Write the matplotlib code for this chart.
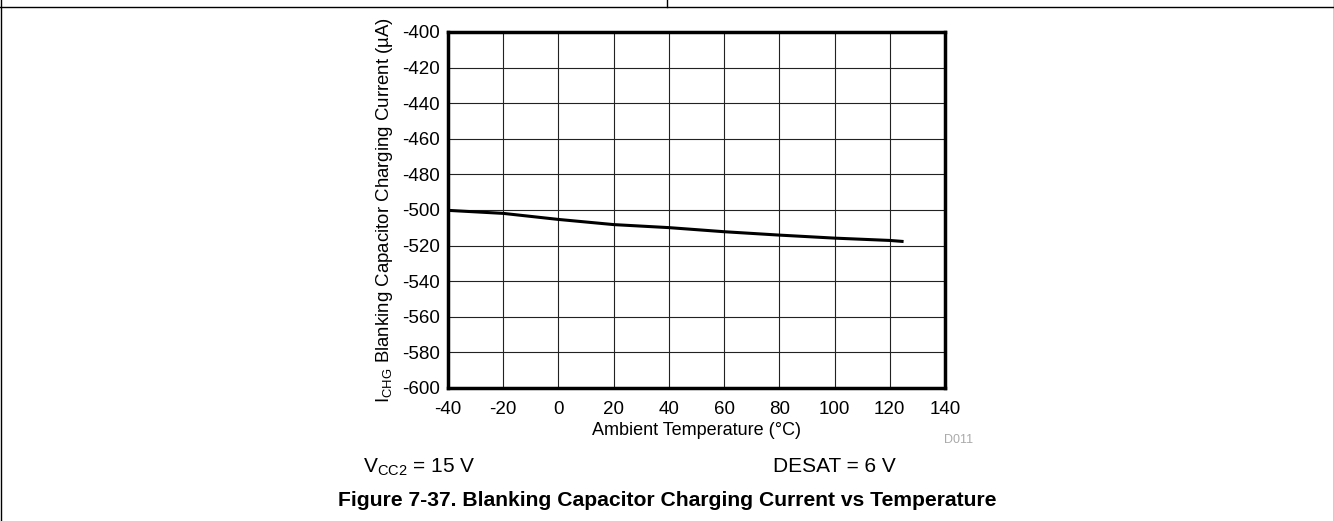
import matplotlib
matplotlib.use("Agg")
import matplotlib.pyplot as plt
from matplotlib.lines import Line2D

plt.rcParams["font.family"] = ["Liberation Sans", "DejaVu Sans"]
plt.rcParams["axes.unicode_minus"] = False

# values
temp = [-40, -20, 0, 20, 40, 60, 80, 100, 120, 125]
ichg = [-500.2, -501.9, -505.3, -508.2, -509.9, -512.2, -514.1, -515.8, -517.1, -517.7]

xticks = [-40, -20, 0, 20, 40, 60, 80, 100, 120, 140]
yticks = [-600, -580, -560, -540, -520, -500, -480, -460, -440, -420, -400]

W, H = 1334, 521
fig = plt.figure(figsize=(W / 100, H / 100), dpi=100)
ax = fig.add_axes([448 / W, 1 - 388 / H, (945 - 448) / W, (388 - 32) / H])

ax.plot(temp, ichg, color="black", lw=2.2, solid_capstyle="butt")
ax.set_xlim(-40, 140)
ax.set_ylim(-600, -400)
ax.set_xticks(xticks)
ax.set_yticks(yticks)
ax.grid(True, color="#222222", lw=0.8)
ax.tick_params(length=0, labelsize=13.5)
ax.tick_params(axis="x", pad=9)
ax.tick_params(axis="y", pad=6)
for s in ax.spines.values():
    s.set_linewidth(2.5)
ax.set_xlabel("Ambient Temperature (\u00b0C)", fontsize=13, labelpad=3)
ax.set_ylabel("I$_{\\mathregular{CHG}}$ Blanking Capacitor Charging Current (\u00b5A)",
              fontsize=13.4, labelpad=5)

# page frame
fig.add_artist(Line2D([0, 1], [1 - 7 / H, 1 - 7 / H], color="black", lw=1))
fig.add_artist(Line2D([667 / W, 667 / W], [1 - 7 / H, 1], color="black", lw=1))
fig.add_artist(Line2D([0.5 / W, 0.5 / W], [0, 1], color="black", lw=1))
fig.add_artist(Line2D([1 - 0.5 / W, 1 - 0.5 / W], [0, 1], color="black", lw=1))

fig.text(973 / W, 1 - 440 / H, "D011", fontsize=9, color="#aaaaaa", ha="right", va="center")
fig.text(363 / W, 1 - 467 / H, "V$_{\\mathregular{CC2}}$ = 15 V", fontsize=15, va="center")
fig.text(773 / W, 1 - 467 / H, "DESAT = 6 V", fontsize=15, va="center")
fig.text(0.5, 1 - 500 / H, "Figure 7-37. Blanking Capacitor Charging Current vs Temperature",
         fontsize=15.2, fontweight="bold", ha="center", va="center")

fig.savefig("out.png", dpi=100)
